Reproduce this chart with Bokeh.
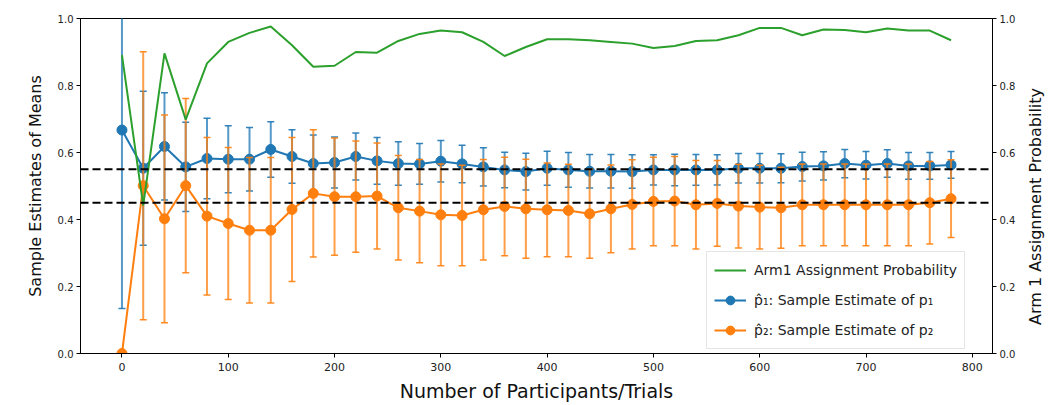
from bokeh.plotting import figure
from bokeh.layouts import row
from bokeh.models import (Range1d, LinearAxis, Span, Legend, LegendItem,
                          FixedTicker, PrintfTickFormatter, Label)
from bokeh.embed import file_html
from bokeh.resources import INLINE

# ---------------- data ----------------
trials = [0, 20, 40, 60, 80, 100, 120, 140, 160, 180,
          200, 220, 240, 260, 280, 300, 320, 340, 360, 380,
          400, 420, 440, 460, 480, 500, 520, 540, 560, 580,
          600, 620, 640, 660, 680, 700, 720, 740, 760, 780]

p1_est = [0.667, 0.553, 0.618, 0.557, 0.582, 0.580, 0.580, 0.609, 0.588, 0.567,
          0.570, 0.588, 0.575, 0.567, 0.566, 0.574, 0.566, 0.557, 0.548, 0.543,
          0.553, 0.548, 0.544, 0.544, 0.543, 0.548, 0.548, 0.548, 0.548, 0.553,
          0.553, 0.553, 0.558, 0.560, 0.567, 0.562, 0.567, 0.560, 0.560, 0.563]
p1_err = [0.533, 0.230, 0.160, 0.133, 0.120, 0.100, 0.095, 0.083, 0.080, 0.085,
          0.076, 0.070, 0.070, 0.065, 0.061, 0.062, 0.056, 0.057, 0.053, 0.055,
          0.051, 0.052, 0.050, 0.050, 0.050, 0.045, 0.047, 0.046, 0.045, 0.044,
          0.044, 0.043, 0.043, 0.042, 0.042, 0.041, 0.041, 0.040, 0.040, 0.040]

p2_est = [0.000, 0.501, 0.402, 0.501, 0.410, 0.388, 0.368, 0.368, 0.430, 0.478,
          0.468, 0.468, 0.470, 0.435, 0.425, 0.414, 0.412, 0.429, 0.439, 0.432,
          0.429, 0.427, 0.417, 0.432, 0.445, 0.454, 0.455, 0.444, 0.448, 0.440,
          0.437, 0.435, 0.444, 0.444, 0.444, 0.444, 0.444, 0.444, 0.450, 0.462]
p2_err = [0.000, 0.400, 0.310, 0.260, 0.235, 0.227, 0.217, 0.217, 0.215, 0.190,
          0.175, 0.166, 0.158, 0.156, 0.154, 0.152, 0.150, 0.150, 0.147, 0.148,
          0.140, 0.138, 0.133, 0.131, 0.133, 0.132, 0.133, 0.132, 0.128, 0.125,
          0.125, 0.121, 0.122, 0.122, 0.122, 0.122, 0.122, 0.122, 0.123, 0.116]

arm1_prob = [0.891, 0.442, 0.896, 0.698, 0.866, 0.930, 0.957, 0.976, 0.920, 0.856,
             0.859, 0.900, 0.898, 0.933, 0.954, 0.964, 0.959, 0.930, 0.888, 0.915,
             0.938, 0.938, 0.935, 0.930, 0.925, 0.912, 0.918, 0.933, 0.935, 0.950,
             0.972, 0.972, 0.950, 0.967, 0.966, 0.959, 0.970, 0.964, 0.964, 0.935]

true_means = [0.55, 0.45]

x_ticks = [0, 100, 200, 300, 400, 500, 600, 700, 800]
y_ticks = [0.0, 0.2, 0.4, 0.6, 0.8, 1.0]

# ---------------- style ----------------
FONT = "DejaVu Sans"
BLUE = "#1f77b4"
ORANGE = "#ff7f0e"
GREEN = "#2ca02c"
H = 404

p = figure(width=1020, height=H, output_backend="svg", toolbar_location=None,
           x_range=Range1d(-39, 819), y_range=Range1d(0, 1),
           min_border_left=80, min_border_right=28, min_border_top=18,
           min_border_bottom=48)
p.extra_y_ranges = {"prob": Range1d(0, 1)}
p.xgrid.visible = False
p.ygrid.visible = False
p.outline_line_color = "black"
p.outline_line_alpha = 1
p.background_fill_color = "white"
p.border_fill_color = "white"

right_axis = LinearAxis(y_range_name="prob")
p.add_layout(right_axis, "right")

for ax in [p.xaxis[0], p.yaxis[0], right_axis]:
    ax.major_tick_out = 4
    ax.major_tick_in = 0
    ax.minor_tick_out = 0
    ax.minor_tick_in = 0
    ax.axis_line_color = "black"
    ax.major_tick_line_color = "black"
    ax.major_label_text_font = FONT
    ax.major_label_text_font_size = "10px"
    ax.major_label_text_color = "#222222"
    ax.axis_label_text_font = FONT
    ax.axis_label_text_font_size = "16px"
    ax.axis_label_text_font_style = "normal"
    ax.axis_label_text_color = "#111111"
    ax.major_label_standoff = 3
    ax.axis_label_standoff = 4

p.xaxis[0].major_label_text_font_size = "11px"
p.xaxis[0].major_label_standoff = 5
p.xaxis[0].axis_label_text_font_size = "19px"
p.xaxis[0].axis_label_standoff = 6
p.yaxis[0].axis_label_standoff = 10

p.xaxis[0].ticker = FixedTicker(ticks=x_ticks)
p.yaxis[0].ticker = FixedTicker(ticks=y_ticks)
right_axis.ticker = FixedTicker(ticks=y_ticks)
p.yaxis[0].formatter = PrintfTickFormatter(format="%.1f")
right_axis.formatter = PrintfTickFormatter(format="%.1f")

p.xaxis[0].axis_label = "Number of Participants/Trials"
p.yaxis[0].axis_label = "Sample Estimates of Means"

# ---------------- error bars + series ----------------
def series(est, err, color):
    lo = [e - d for e, d in zip(est, err)]
    hi = [e + d for e, d in zip(est, err)]
    p.segment(x0=trials, y0=lo, x1=trials, y1=hi, line_color=color,
              line_width=2, line_alpha=0.75)
    p.scatter(x=trials, y=lo, marker="dash", size=7, line_color=color,
              line_width=1.5, line_alpha=0.9)
    p.scatter(x=trials, y=hi, marker="dash", size=7, line_color=color,
              line_width=1.5, line_alpha=0.9)
    ln = p.line(x=trials, y=est, line_color=color, line_width=2)
    mk = p.scatter(x=trials, y=est, marker="circle", size=10,
                   fill_color=color, line_color=color)
    return ln, mk

b_line, b_mark = series(p1_est, p1_err, BLUE)
o_line, o_mark = series(p2_est, p2_err, ORANGE)

g_line = p.line(x=trials, y=arm1_prob, line_color=GREEN, line_width=2,
                y_range_name="prob")

for m in true_means:
    p.add_layout(Span(location=m, dimension="width", line_color="black",
                      line_width=2, line_dash="8 4", level="overlay"))

legend = Legend(items=[
    LegendItem(label="Arm1 Assignment Probability", renderers=[g_line]),
    LegendItem(label="p\u0302\u2081: Sample Estimate of p\u2081", renderers=[b_line, b_mark]),
    LegendItem(label="p\u0302\u2082: Sample Estimate of p\u2082", renderers=[o_line, o_mark]),
], location=(626, 4))
legend.label_text_font = FONT
legend.label_text_font_size = "14px"
legend.label_text_color = "#222222"
legend.glyph_width = 32
legend.glyph_height = 22
legend.label_height = 22
legend.label_standoff = 8
legend.spacing = 8
legend.padding = 7
legend.margin = 0
legend.border_line_color = "#cccccc"
legend.border_line_width = 1
legend.background_fill_color = "white"
legend.background_fill_alpha = 0.85
p.add_layout(legend)

# ---------------- right-hand axis title (reads bottom-to-top) ----------------
side = figure(width=26, height=H, output_backend="svg", toolbar_location=None,
              x_range=Range1d(0, 1), y_range=Range1d(0, 1),
              min_border_left=0, min_border_right=0, min_border_top=0,
              min_border_bottom=0)
side.axis.visible = False
side.grid.visible = False
side.outline_line_color = None
side.background_fill_color = "white"
side.border_fill_color = "white"
side.add_layout(Label(x=15, y=147, x_units="screen", y_units="screen",
                      text="Arm 1 Assignment Probability", angle=90,
                      angle_units="deg", text_align="center",
                      text_baseline="middle", text_font=FONT,
                      text_font_size="16px", text_color="#111111"))

layout = row(p, side, spacing=0)
open("out.html", "w").write(file_html(layout, INLINE))
